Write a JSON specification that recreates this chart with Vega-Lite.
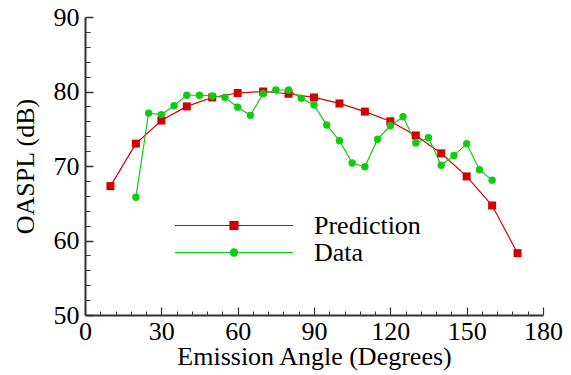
{
  "$schema": "https://vega.github.io/schema/vega-lite/v6.json",
  "width": 458,
  "height": 298,
  "autosize": {"type": "none"},
  "padding": {"left": 85, "top": 17, "right": 28, "bottom": 60},
  "background": "white",
  "config": {
    "view": {"stroke": null},
    "font": "Liberation Serif",
    "axis": {
      "grid": false,
      "domainColor": "#333333",
      "domainWidth": 2,
      "tickColor": "#333333",
      "labelColor": "black",
      "titleColor": "black",
      "labelFont": "Liberation Serif",
      "titleFont": "Liberation Serif",
      "labelFontSize": 26,
      "titleFontSize": 26,
      "titleFontWeight": "normal"
    },
    "legend": {
      "labelFont": "Liberation Serif",
      "labelFontSize": 26,
      "labelColor": "black"
    }
  },
  "data": {
    "values": [
      {"series": "Prediction", "angle": 10, "oaspl": 67.3},
      {"series": "Prediction", "angle": 20, "oaspl": 73.0},
      {"series": "Prediction", "angle": 30, "oaspl": 76.1},
      {"series": "Prediction", "angle": 40, "oaspl": 78.0},
      {"series": "Prediction", "angle": 50, "oaspl": 79.2},
      {"series": "Prediction", "angle": 60, "oaspl": 79.8},
      {"series": "Prediction", "angle": 70, "oaspl": 80.0},
      {"series": "Prediction", "angle": 80, "oaspl": 79.7},
      {"series": "Prediction", "angle": 90, "oaspl": 79.2},
      {"series": "Prediction", "angle": 100, "oaspl": 78.4},
      {"series": "Prediction", "angle": 110, "oaspl": 77.3},
      {"series": "Prediction", "angle": 120, "oaspl": 76.0},
      {"series": "Prediction", "angle": 130, "oaspl": 74.1},
      {"series": "Prediction", "angle": 140, "oaspl": 71.7},
      {"series": "Prediction", "angle": 150, "oaspl": 68.6},
      {"series": "Prediction", "angle": 160, "oaspl": 64.7},
      {"series": "Prediction", "angle": 170, "oaspl": 58.3},
      {"series": "Data", "angle": 20, "oaspl": 65.8},
      {"series": "Data", "angle": 25, "oaspl": 77.1},
      {"series": "Data", "angle": 30, "oaspl": 76.9},
      {"series": "Data", "angle": 35, "oaspl": 78.1},
      {"series": "Data", "angle": 40, "oaspl": 79.5},
      {"series": "Data", "angle": 45, "oaspl": 79.5},
      {"series": "Data", "angle": 50, "oaspl": 79.4},
      {"series": "Data", "angle": 55, "oaspl": 79.2},
      {"series": "Data", "angle": 60, "oaspl": 77.9},
      {"series": "Data", "angle": 65, "oaspl": 76.8},
      {"series": "Data", "angle": 70, "oaspl": 79.7},
      {"series": "Data", "angle": 75, "oaspl": 80.2},
      {"series": "Data", "angle": 80, "oaspl": 80.2},
      {"series": "Data", "angle": 85, "oaspl": 79.1},
      {"series": "Data", "angle": 90, "oaspl": 78.2},
      {"series": "Data", "angle": 95, "oaspl": 75.5},
      {"series": "Data", "angle": 100, "oaspl": 73.4},
      {"series": "Data", "angle": 105, "oaspl": 70.4},
      {"series": "Data", "angle": 110, "oaspl": 69.9},
      {"series": "Data", "angle": 115, "oaspl": 73.6},
      {"series": "Data", "angle": 120, "oaspl": 75.4},
      {"series": "Data", "angle": 125, "oaspl": 76.6},
      {"series": "Data", "angle": 130, "oaspl": 73.1},
      {"series": "Data", "angle": 135, "oaspl": 73.8},
      {"series": "Data", "angle": 140, "oaspl": 70.1},
      {"series": "Data", "angle": 145, "oaspl": 71.4},
      {"series": "Data", "angle": 150, "oaspl": 73.0},
      {"series": "Data", "angle": 155, "oaspl": 69.5},
      {"series": "Data", "angle": 160, "oaspl": 68.1}
    ]
  },
  "resolve": {"axis": {"x": "independent", "y": "independent"}},
  "layer": [
    {
      "mark": {"type": "line", "strokeWidth": 1.2},
      "encoding": {
        "x": {
          "field": "angle", "type": "quantitative",
          "scale": {"domain": [0, 180], "nice": false},
          "axis": {
            "orient": "bottom",
            "values": [0, 30, 60, 90, 120, 150, 180],
            "tickSize": -8, "tickWidth": 1.2,
            "labelPadding": 11,
            "labelFlush": false,
            "labelOverlap": false,
            "title": "Emission Angle (Degrees)",
            "titlePadding": -1
          }
        },
        "y": {
          "field": "oaspl", "type": "quantitative",
          "scale": {"domain": [50, 90], "nice": false, "zero": false},
          "axis": {
            "orient": "left",
            "values": [50, 60, 70, 80, 90],
            "tickSize": -8, "tickWidth": 1.5,
            "labelPadding": 14,
            "labelFlush": false,
            "labelOverlap": false,
            "title": "OASPL (dB)",
            "titlePadding": 15
          }
        },
        "color": {
          "field": "series", "type": "nominal",
          "scale": {"domain": ["Prediction", "Data"], "range": ["#d20000", "#10cc10"]},
          "legend": {
            "title": null,
            "orient": "none",
            "legendX": 89,
            "legendY": 195,
            "padding": 0,
            "symbolSize": 13924,
            "symbolStrokeWidth": 1.2,
            "labelOffset": 20,
            "rowPadding": 0,
            "clipHeight": 27,
            "encode": {
              "symbols": {
                "update": {
                  "shape": {"signal": "datum.value === 'Prediction' ? 'M-1,0H1M-0.068,-0.068H0.068V0.068H-0.068Z' : 'M-1,0H1M0.062,0A0.062,0.062 0 1,1 -0.062,0A0.062,0.062 0 1,1 0.062,0Z'"},
                  "fill": {"signal": "datum.value === 'Prediction' ? '#d20000' : '#10cc10'"},
                  "stroke": {"signal": "datum.value === 'Prediction' ? '#d20000' : '#10cc10'"},
                  "strokeWidth": {"value": 1.2}
                }
              }
            }
          }
        }
      }
    },
    {
      "transform": [{"filter": "datum.series === 'Prediction'"}],
      "mark": {"type": "point", "filled": true, "opacity": 1, "size": 64, "shape": "square"},
      "encoding": {
        "x": {
          "field": "angle", "type": "quantitative",
          "scale": {"domain": [0, 180], "nice": false},
          "axis": {
            "orient": "bottom",
            "values": [6, 12, 18, 24, 36, 42, 48, 54, 66, 72, 78, 84, 96, 102, 108, 114, 126, 132, 138, 144, 156, 162, 168, 174],
            "tickSize": -4, "tickWidth": 1,
            "labels": false, "domain": false, "title": null
          }
        },
        "y": {
          "field": "oaspl", "type": "quantitative",
          "scale": {"domain": [50, 90], "nice": false, "zero": false},
          "axis": {
            "orient": "left",
            "values": [52, 54, 56, 58, 62, 64, 66, 68, 72, 74, 76, 78, 82, 84, 86, 88],
            "tickSize": -5, "tickWidth": 1,
            "labels": false, "domain": false, "title": null
          }
        },
        "color": {"field": "series", "type": "nominal"}
      }
    },
    {
      "transform": [{"filter": "datum.series === 'Data'"}],
      "mark": {"type": "point", "filled": true, "opacity": 1, "size": 55, "shape": "circle"},
      "encoding": {
        "x": {"field": "angle", "type": "quantitative", "axis": null},
        "y": {"field": "oaspl", "type": "quantitative", "axis": null},
        "color": {"field": "series", "type": "nominal"}
      }
    }
  ]
}
